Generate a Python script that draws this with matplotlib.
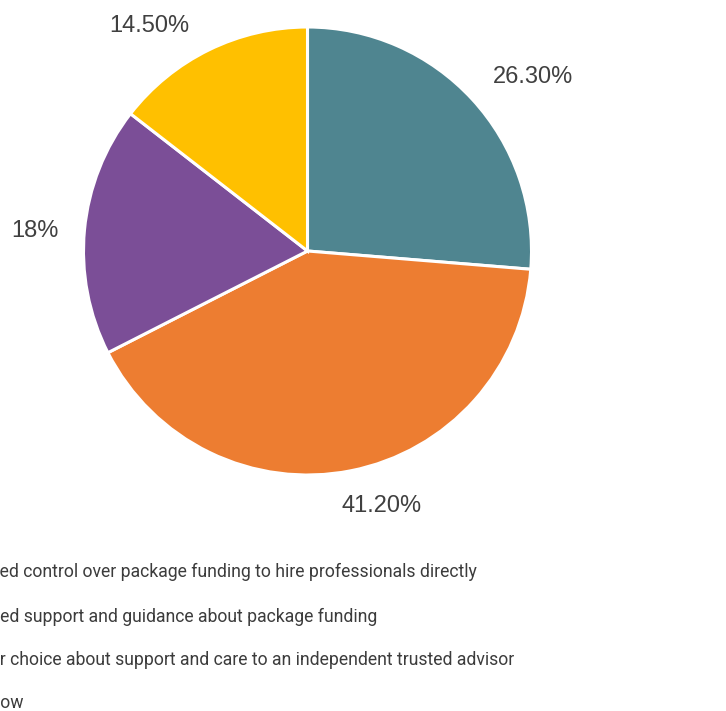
import numpy as np
import matplotlib
matplotlib.use("Agg")
from matplotlib import pyplot as plt

plt.rcParams['font.family'] = ['Liberation Sans', 'DejaVu Sans']

labels = [
    "Wanted control over package funding to hire professionals directly",
    "Needed support and guidance about package funding",
    "Their choice about support and care to an independent trusted advisor",
    "Don't know",
]
shares = [26.3, 41.2, 18.0, 14.5]
pct_text = ["26.30%", "41.20%", "18%", "14.50%"]
colors = ["#4F8590", "#ED7D31", "#7B4E97", "#FFC000"]
# part of each legend label hidden beyond the left edge
hidden = ["Want", "Need", "Thei", "Don't kn"]

W, H, DPI = 726, 711, 100
R = 224.0            # pie radius in px
cx, cy = 307.5, 251  # pie centre in px (from top-left)

# data-label anchors (px, baseline) and legend baselines
pct_pos = [(533, 83), (382, 512), (35, 237), (149, 32)]
line_y = [577, 622, 665, 708]

fig = plt.figure(figsize=(W / DPI, H / DPI), dpi=DPI)
ax = fig.add_axes([0, 0, 1, 1])

wedges, texts = ax.pie(shares, colors=colors, startangle=90, counterclock=False,
                       labels=pct_text, labeldistance=1.24,
                       wedgeprops=dict(edgecolor="white", linewidth=2.2),
                       textprops=dict(fontsize=17, color="#404040"))
for t, (px, py) in zip(texts, pct_pos):
    t.set_position(((px - cx) / R, (cy - py) / R))
    t.set_ha("center")
    t.set_va("baseline")

ax.set_xlim(-cx / R, (W - cx) / R)
ax.set_ylim(-(H - cy) / R, cy / R)
ax.set_aspect("auto")
ax.axis("off")

# legend text, left end cut off by the figure edge
fam = ['Roboto', 'Liberation Sans']
fs = 12.7
fig.canvas.draw()
rend = fig.canvas.get_renderer()
for lab, pre, py in zip(labels, hidden, line_y):
    probe = fig.text(0, 0, pre, fontsize=fs, family=fam)
    wpx = probe.get_window_extent(rend).width
    probe.remove()
    fig.text(-wpx / W, 1 - py / H, lab, fontsize=fs, color="#3C3C3C",
             family=fam, ha="left", va="baseline")

fig.savefig("out.png", dpi=DPI)
